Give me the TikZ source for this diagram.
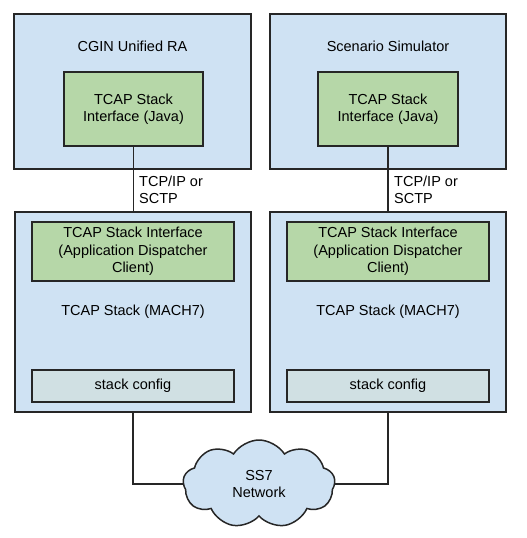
\documentclass[tikz,border=0pt]{standalone}
\usepackage{fontspec}
\setmainfont{Liberation Sans}
\usetikzlibrary{shapes.symbols}
\definecolor{outerblue}{HTML}{CFE2F3}
\definecolor{innergreen}{HTML}{B6D7A8}
\definecolor{cfggray}{HTML}{D0E0E3}
\tikzset{
  outerbox/.style={draw=black!85, line width=1.5pt, fill=outerblue, inner sep=0pt},
  greenbox/.style={draw=black!85, line width=1.5pt, fill=innergreen, inner sep=0pt, align=center, font=\fontsize{14.5}{17.5}\selectfont},
  cfgbox/.style={draw=black!85, line width=1.5pt, fill=cfggray, inner sep=0pt, align=center, font=\fontsize{14.5}{17.5}\selectfont},
  lbl/.style={inner sep=0pt, align=center, font=\fontsize{14.5}{17.5}\selectfont},
  conn/.style={draw=black!85, line width=1.5pt},
  netcloud/.style={cloud, cloud puffs=9, cloud puff arc=115, aspect=1.7, draw=black!85, line width=1.5pt, fill=outerblue, inner sep=0pt, minimum width=152pt, minimum height=88pt, align=center, font=\fontsize{14.5}{17.5}\selectfont}
}
\begin{document}
\begin{tikzpicture}[x=1pt,y=-1pt]
\useasboundingbox (0,0) rectangle (527,538);
% top boxes
\node[outerbox, minimum width=237pt, minimum height=155pt] (tl) at (132.5,91.5) {};
\node[lbl] (tlt) at (132.5,46) {CGIN Unified RA};
\node[greenbox, minimum width=139pt, minimum height=74pt] (g1) at (133.5,109) {TCAP Stack\\Interface (Java)};
\node[outerbox, minimum width=236pt, minimum height=155pt] (tr) at (388,91.5) {};
\node[lbl] (trt) at (388,46) {Scenario Simulator};
\node[greenbox, minimum width=140pt, minimum height=74pt] (g2) at (388,109) {TCAP Stack\\Interface (Java)};
% bottom boxes
\node[outerbox, minimum width=236pt, minimum height=200pt] (bl) at (133,312) {};
\node[greenbox, minimum width=202pt, minimum height=59pt] (g3) at (133,251.5) {TCAP Stack Interface\\(Application Dispatcher\\Client)};
\node[lbl] (m1) at (133,312) {TCAP Stack (MACH7)};
\node[cfgbox, minimum width=202pt, minimum height=32pt] (c1) at (133,386) {stack config};
\node[outerbox, minimum width=236pt, minimum height=200pt] (br) at (388,312) {};
\node[greenbox, minimum width=202pt, minimum height=59pt] (g4) at (388,251.5) {TCAP Stack Interface\\(Application Dispatcher\\Client)};
\node[lbl] (m2) at (388,312) {TCAP Stack (MACH7)};
\node[cfgbox, minimum width=202pt, minimum height=32pt] (c2) at (388,386) {stack config};
% cloud
\node[netcloud] (net) at (259,484) {SS7\\Network};
% connectors
\draw[conn] (g1.south) -- (g1.south |- bl.north);
\draw[conn] (g2.south) -- (g2.south |- br.north);
\node[lbl, align=left, anchor=west] (l1) at (139,190) {TCP/IP or\\SCTP};
\node[lbl, align=left, anchor=west] (l2) at (394,190) {TCP/IP or\\SCTP};
\draw[conn] (bl.south) |- (net.west);
\draw[conn] (br.south) |- (net.east);
\end{tikzpicture}
\end{document}
